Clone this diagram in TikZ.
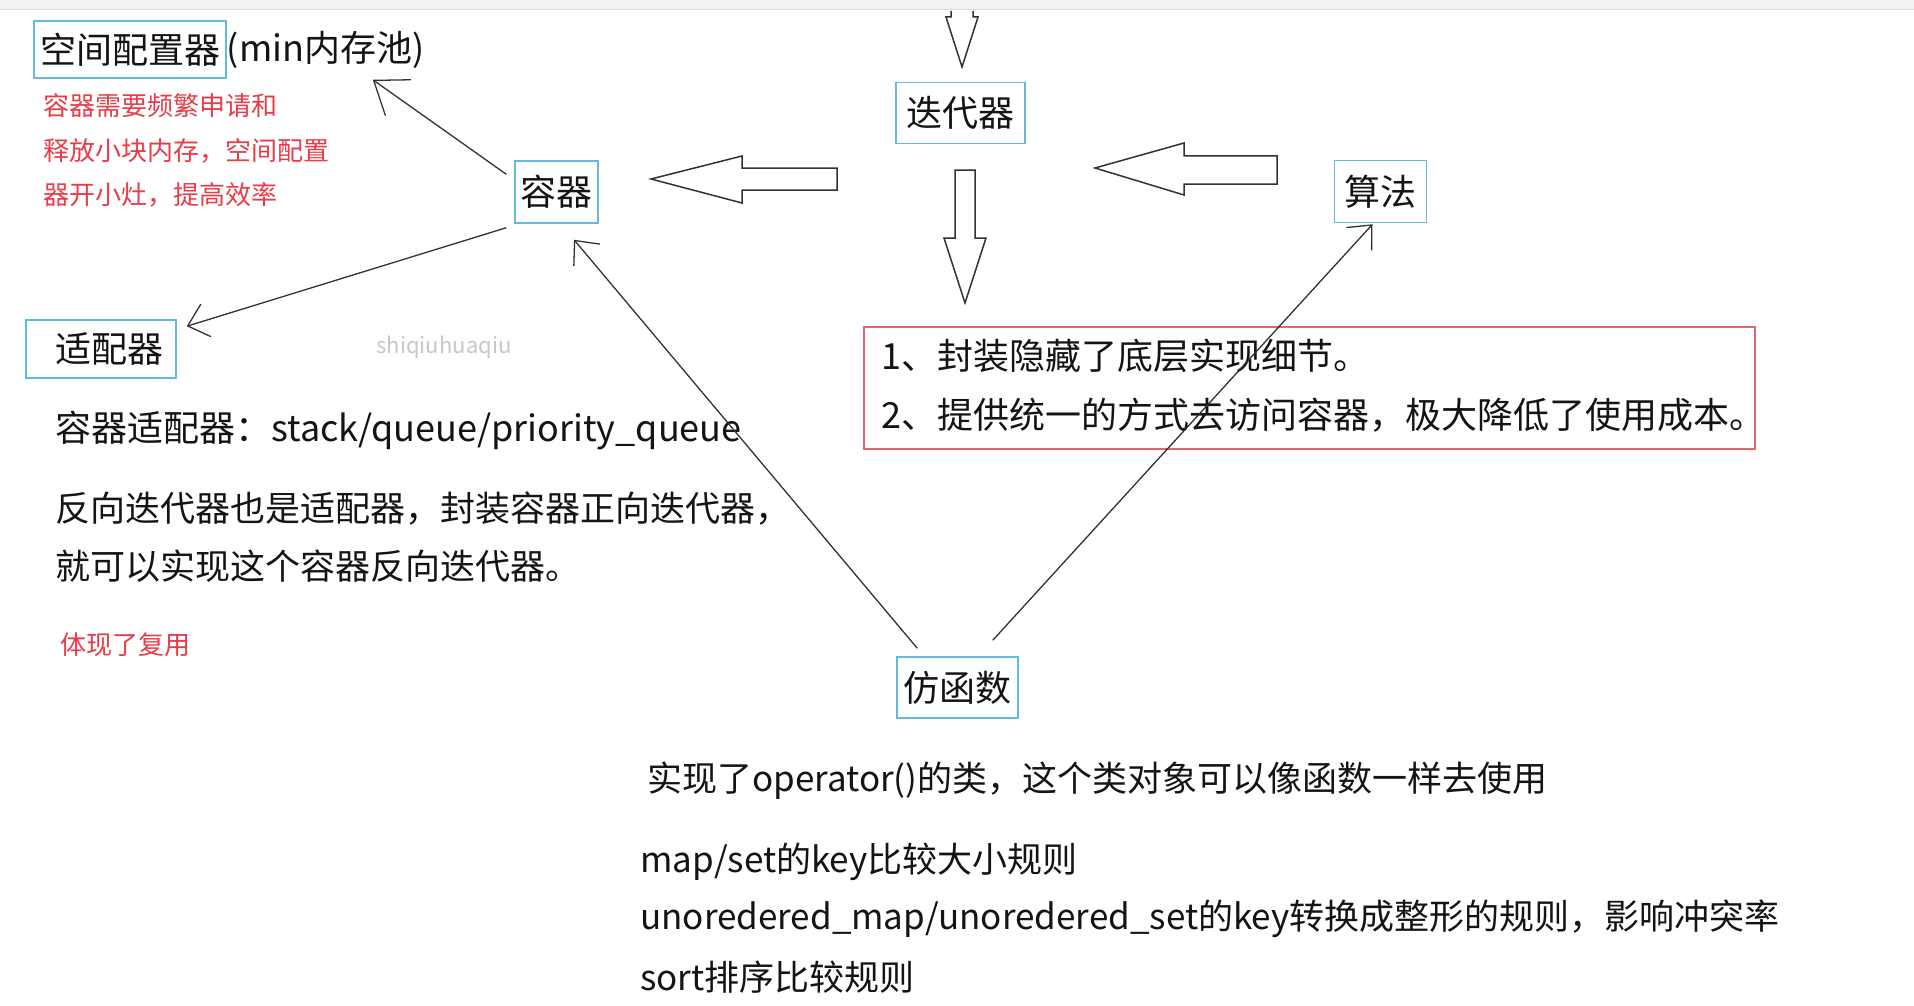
\documentclass[tikz,border=0pt]{standalone}
\usepackage{fontspec}
\setmainfont{Noto Sans CJK SC}
\usetikzlibrary{arrows.meta,calc}
\definecolor{boxblue}{RGB}{100,185,220}
\definecolor{boxred}{RGB}{226,100,112}
\definecolor{txtred}{RGB}{232,60,72}
\definecolor{txt}{RGB}{20,20,20}
\definecolor{wm}{RGB}{200,200,200}
\definecolor{lnk}{RGB}{50,50,50}
\begin{document}
\begin{tikzpicture}[x=1pt,y=-1pt,
  lbl/.style={draw=boxblue,line width=1.5pt,inner sep=0pt,text=txt,font=\fontsize{36pt}{40pt}\selectfont},
  body/.style={anchor=west,inner sep=0pt,text=txt,font=\fontsize{35pt}{38pt}\selectfont},
  bigbody/.style={anchor=west,inner sep=0pt,text=txt,font=\fontsize{36pt}{40pt}\selectfont},
  note/.style={anchor=west,inner sep=0pt,text=txtred,font=\fontsize{26pt}{30pt}\selectfont},
  blockarrow/.style={draw=lnk,line width=1.5pt,fill=white,line join=miter},
  link/.style={draw=lnk,line width=1.3pt,-{Straight Barb[length=19pt,width=34pt]}},
]
\useasboundingbox (0,0) rectangle (1914,1006);
\fill[white] (0,0) rectangle (1914,1006);
\fill[black!5] (0,0) rectangle (1914,10);
\draw[black!15,line width=1pt] (0,10) -- (1914,10);

% nodes
\node[lbl,minimum width=192pt,minimum height=57pt] (kj) at (130,49.5) {空间配置器};
\node[anchor=west,inner sep=0pt,text=txt,font=\fontsize{36pt}{40pt}\selectfont] (kjm) at (kj.east) {(min内存池)};
\node[note] (n1) at (43,106) {容器需要频繁申请和};
\node[note] (n2) at (43,151) {释放小块内存，空间配置};
\node[note] (n3) at (43,195) {器开小灶，提高效率};

\node[lbl,minimum width=83pt,minimum height=62pt] (rq) at (556.5,192) {容器};
\node[lbl,minimum width=129pt,minimum height=61pt] (ddq) at (960.5,113) {迭代器};
\node[lbl,minimum width=92pt,minimum height=62pt] (sf) at (1380.5,191.5) {算法};
\node[lbl,minimum width=150pt,minimum height=58pt] (spq) at (101,349) {\hspace*{16pt}适配器};
\node[lbl,minimum width=121pt,minimum height=61pt] (ffs) at (957.5,687.5) {仿函数};

\node[draw=boxred,line width=1.5pt,minimum width=891pt,minimum height=122pt,inner sep=0pt] (tx) at (1309.5,388) {};
\node[bigbody] (t1) at (881,356) {1、封装隐藏了底层实现细节。};
\node[bigbody] (t2) at (881,415) {2、提供统一的方式去访问容器，极大降低了使用成本。};

\node[text=wm,inner sep=0pt,font=\fontsize{22pt}{24pt}\selectfont] (wmk) at (444,347) {shiqiuhuaqiu};

\node[bigbody] (ad1) at (55,430) {容器适配器：stack/queue/priority\_queue};
\node[body] (ad2) at (55,509) {反向迭代器也是适配器，封装容器正向迭代器，};
\node[body] (ad3) at (55,566) {就可以实现这个容器反向迭代器。};
\node[note] (ad4) at (60,645) {体现了复用};

\node[body] (f1) at (647,781) {实现了operator()的类，这个类对象可以像函数一样去使用};
\node[body] (f2) at (640,862) {map/set的key比较大小规则};
\node[body] (f3) at (640,919) {unoredered\_map/unoredered\_set的key转换成整形的规则，影响冲突率};
\node[body] (f4) at (640,977) {sort排序比较规则};

% block arrows
\draw[blockarrow] (951,11) -- (951,17) -- (946,17) -- (962,67) -- (978,17) -- (973,17) -- (973,11);
\draw[blockarrow] (955,170) -- (975,170) -- (975,238) -- (986,238) -- (965,303) -- (944,238) -- (955,238) -- cycle;
\draw[blockarrow] (651,179) -- (742,156) -- (742,168) -- (837,168) -- (837,190) -- (742,190) -- (742,203) -- cycle;
\draw[blockarrow] (1095,168) -- (1184,143) -- (1184,156) -- (1277,156) -- (1277,184) -- (1184,184) -- (1184,195) -- cycle;

% thin links
\draw[link,-{Straight Barb[length=30pt,width=44pt]}] ($(rq.north west)+(-8,14)$) -- ($(kj.south east)+(146,1)$);
\draw[link] ($(rq.south west)+(-8,4)$) -- ($(spq.north east)+(10,7)$);
\draw[link] ($(ffs.north west)+(21,-8)$) -- ($(rq.south)+(17.5,16)$);
\draw[link] ($(ffs.north east)+(-26,-16)$) -- ($(sf.south)+(-8,1)$);
\end{tikzpicture}
\end{document}
